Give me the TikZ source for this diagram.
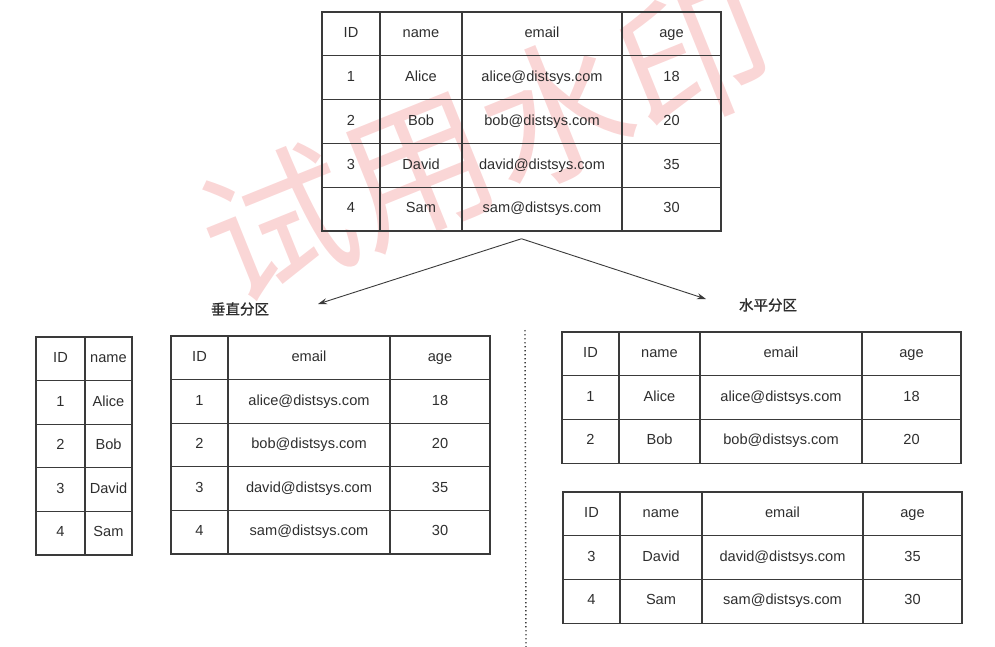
\documentclass[tikz,border=0pt]{standalone}
\usepackage{fontspec}
\setmainfont{Liberation Sans}
\newfontfamily\cjk{Noto Sans CJK SC}
\newfontfamily\cjkb[FakeBold=1.2]{Noto Sans CJK SC}
\usetikzlibrary{arrows.meta,fit}
\definecolor{linec}{HTML}{3A3A3A}
\definecolor{txtc}{HTML}{2E2E2E}
\definecolor{wmc}{RGB}{250,214,214}
\tikzset{
  cell/.style={draw=linec, line width=1.1pt, inner sep=0pt, text=txtc,
    font=\fontsize{14.6}{16}\selectfont, text height=10.5pt, text depth=3pt, anchor=center},
  tblbox/.style={inner sep=0pt, draw=none},
  splitarrow/.style={draw=linec, line width=0.9pt, -{Stealth[length=9pt,width=6pt]}},
  sectlabel/.style={text=txtc, font=\cjkb\fontsize{14.5}{16}\selectfont},
  divider/.style={draw=linec, line width=1.4pt, dash pattern=on 1.4pt off 2.6pt},
  watermark/.style={text=wmc, font=\cjk\fontsize{150}{150}\selectfont, rotate=22}
}
\begin{document}
\begin{tikzpicture}[x=1pt,y=-1pt]
\useasboundingbox (0,0) rectangle (995,647);
% watermark
\node[watermark] (wm) at (486,140) {试用水印};

% top table
\foreach \r/\y/\a/\b/\c/\d in {0/33.9/ID/name/email/age,
  1/77.7/1/Alice/alice@distsys.com/18,
  2/121.5/2/Bob/bob@distsys.com/20,
  3/165.3/3/David/david@distsys.com/35,
  4/209.1/4/Sam/sam@distsys.com/30}{
  \node[cell, minimum width=58pt, minimum height=43.8pt] (T-\r-1) at (351,\y) {\a};
  \node[cell, minimum width=82pt, minimum height=43.8pt] (T-\r-2) at (421,\y) {\b};
  \node[cell, minimum width=160pt, minimum height=43.8pt] (T-\r-3) at (542,\y) {\c};
  \node[cell, minimum width=99pt, minimum height=43.8pt] (T-\r-4) at (671.5,\y) {\d};
}
\node[tblbox, fit=(T-0-1)(T-4-4)] (top) {};

% vertical partition: left table 1
\foreach \r/\y/\a/\b in {0/358.8/ID/name,
  1/402.4/1/Alice, 2/446/2/Bob, 3/489.6/3/David, 4/533.2/4/Sam}{
  \node[cell, minimum width=49pt, minimum height=43.6pt] (VA-\r-1) at (60.5,\y) {\a};
  \node[cell, minimum width=47pt, minimum height=43.6pt] (VA-\r-2) at (108.5,\y) {\b};
}
% vertical partition: left table 2
\foreach \r/\y/\a/\b/\c in {0/357.8/ID/email/age,
  1/401.4/1/alice@distsys.com/18,
  2/445/2/bob@distsys.com/20,
  3/488.6/3/david@distsys.com/35,
  4/532.2/4/sam@distsys.com/30}{
  \node[cell, minimum width=57pt, minimum height=43.6pt] (VB-\r-1) at (199.5,\y) {\a};
  \node[cell, minimum width=162pt, minimum height=43.6pt] (VB-\r-2) at (309,\y) {\b};
  \node[cell, minimum width=100pt, minimum height=43.6pt] (VB-\r-3) at (440,\y) {\c};
}

% horizontal partition: table A
\foreach \r/\y/\a/\b/\c/\d in {0/353.8/ID/name/email/age,
  1/397.5/1/Alice/alice@distsys.com/18,
  2/441.2/2/Bob/bob@distsys.com/20}{
  \node[cell, minimum width=57pt, minimum height=43.7pt] (HA-\r-1) at (590.5,\y) {\a};
  \node[cell, minimum width=81pt, minimum height=43.7pt] (HA-\r-2) at (659.5,\y) {\b};
  \node[cell, minimum width=162pt, minimum height=43.7pt] (HA-\r-3) at (781,\y) {\c};
  \node[cell, minimum width=99pt, minimum height=43.7pt] (HA-\r-4) at (911.5,\y) {\d};
}
% horizontal partition: table B
\foreach \r/\y/\a/\b/\c/\d in {0/513.8/ID/name/email/age,
  1/557.5/3/David/david@distsys.com/35,
  2/601.2/4/Sam/sam@distsys.com/30}{
  \node[cell, minimum width=57pt, minimum height=43.7pt] (HB-\r-1) at (591.5,\y) {\a};
  \node[cell, minimum width=82pt, minimum height=43.7pt] (HB-\r-2) at (661,\y) {\b};
  \node[cell, minimum width=161pt, minimum height=43.7pt] (HB-\r-3) at (782.5,\y) {\c};
  \node[cell, minimum width=99pt, minimum height=43.7pt] (HB-\r-4) at (912.5,\y) {\d};
}

% labels
\node[sectlabel] (vlabel) at (240,309) {垂直分区};
\node[sectlabel] (hlabel) at (768,305) {水平分区};

% arrows
\coordinate (apex) at ([yshift=-7pt]top.south);
\coordinate (vtip) at (318,304);
\coordinate (htip) at (706,299);
\draw[splitarrow] (apex) -- (vtip);
\draw[splitarrow] (apex) -- (htip);

% divider
\coordinate (dtop) at (525,330);
\coordinate (dbot) at (526,647);
\draw[divider] (dtop) -- (dbot);
\end{tikzpicture}
\end{document}
